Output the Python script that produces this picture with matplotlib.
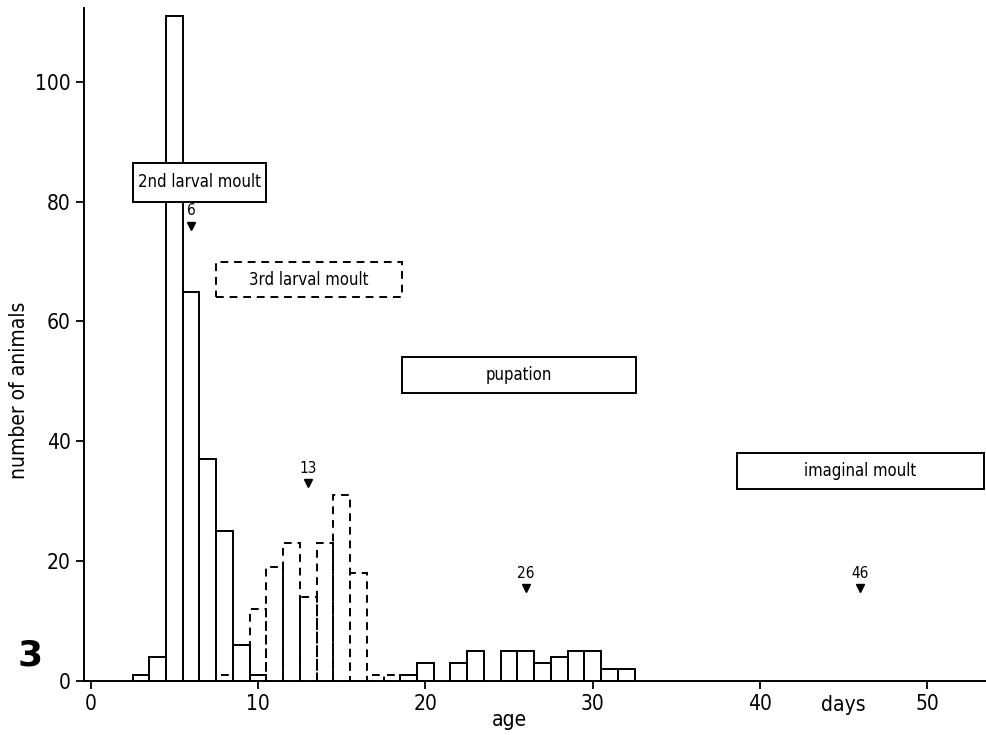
import numpy as np
import matplotlib
matplotlib.use('Agg')
import matplotlib.pyplot as plt
from matplotlib.patches import Rectangle

plt.rcParams['font.family'] = ['DejaVu Sans']
plt.rcParams['font.stretch'] = 'condensed'

# solid bars: animals per age (days)
solid_age = [3, 4, 5, 6, 7, 8, 9, 10, 19, 20, 22, 23, 25, 26, 27, 28, 29, 30, 31, 32]
solid_n = [1, 4, 111, 65, 37, 25, 6, 1, 1, 3, 3, 5, 5, 5, 3, 4, 5, 5, 2, 2]
# dashed bars: 3rd larval moult
dash_age = [8, 9, 10, 11, 12, 13, 14, 15, 16, 17, 18]
dash_n = [1, 6, 12, 19, 23, 14, 23, 31, 18, 1, 1]

# moult boxes
box_labels = ['2nd larval moult', '3rd larval moult', 'pupation', 'imaginal moult']
box_x = [(2.5, 10.5), (7.5, 18.6), (18.6, 32.6), (38.6, 53.4)]
box_y = [(80, 86.5), (64, 70), (48, 54), (32, 38)]
box_dashed = [False, True, False, False]

# median markers
mark_age = [6, 13, 26, 46]
mark_y = [76, 33, 15.5, 15.5]

fig = plt.figure(figsize=(9.86, 7.35), dpi=100)
ax = fig.add_axes([0.0852, 0.0735, 0.9148, 0.9155])

ax.bar(solid_age, solid_n, width=1.0, facecolor='none', edgecolor='black', linewidth=1.4, zorder=2)
ax.bar(dash_age, dash_n, width=1.0, facecolor='none', edgecolor='black', linewidth=1.4,
       linestyle=(0, (4, 3)), zorder=2)

for (x0, x1), (y0, y1), lab, dsh in zip(box_x, box_y, box_labels, box_dashed):
    ls = (0, (4, 3)) if dsh else '-'
    ax.add_patch(Rectangle((x0, y0), x1 - x0, y1 - y0, facecolor='white', edgecolor='black',
                           linewidth=1.4, linestyle=ls, zorder=4, clip_on=False))
    ax.text((x0 + x1) / 2, (y0 + y1) / 2, lab, ha='center', va='center', fontsize=12, zorder=5)

for a, y in zip(mark_age, mark_y):
    ax.plot(a, y, marker='v', color='black', markersize=6, zorder=5)
    ax.text(a, y + 1.2, str(a), ha='center', va='bottom', fontsize=11, zorder=5)

ax.set_xlim(-0.4, 53.5)
ax.set_ylim(0, 112.3)
ax.set_xticks([0, 10, 20, 30, 40, 50])
ax.set_yticks([0, 20, 40, 60, 80, 100])
ax.tick_params(axis='both', direction='out', length=6, width=1.3, labelsize=15)
ax.spines['top'].set_visible(False)
ax.spines['right'].set_visible(False)
ax.spines['left'].set_linewidth(1.4)
ax.spines['bottom'].set_linewidth(1.4)

ax.text(25, -6.5, 'age', ha='center', va='center', fontsize=15, clip_on=False)
ax.text(45, -4.0, 'days', ha='center', va='center', fontsize=15, clip_on=False)
fig.text(0.019, 1 - 390 / 735, 'number of animals', rotation=90, ha='center', va='center', fontsize=15)
fig.text(0.031, 0.108, '3', fontsize=26, fontweight='bold', fontstretch='normal', ha='center', va='center')

plt.savefig('out.png', dpi=100)
plt.close()
